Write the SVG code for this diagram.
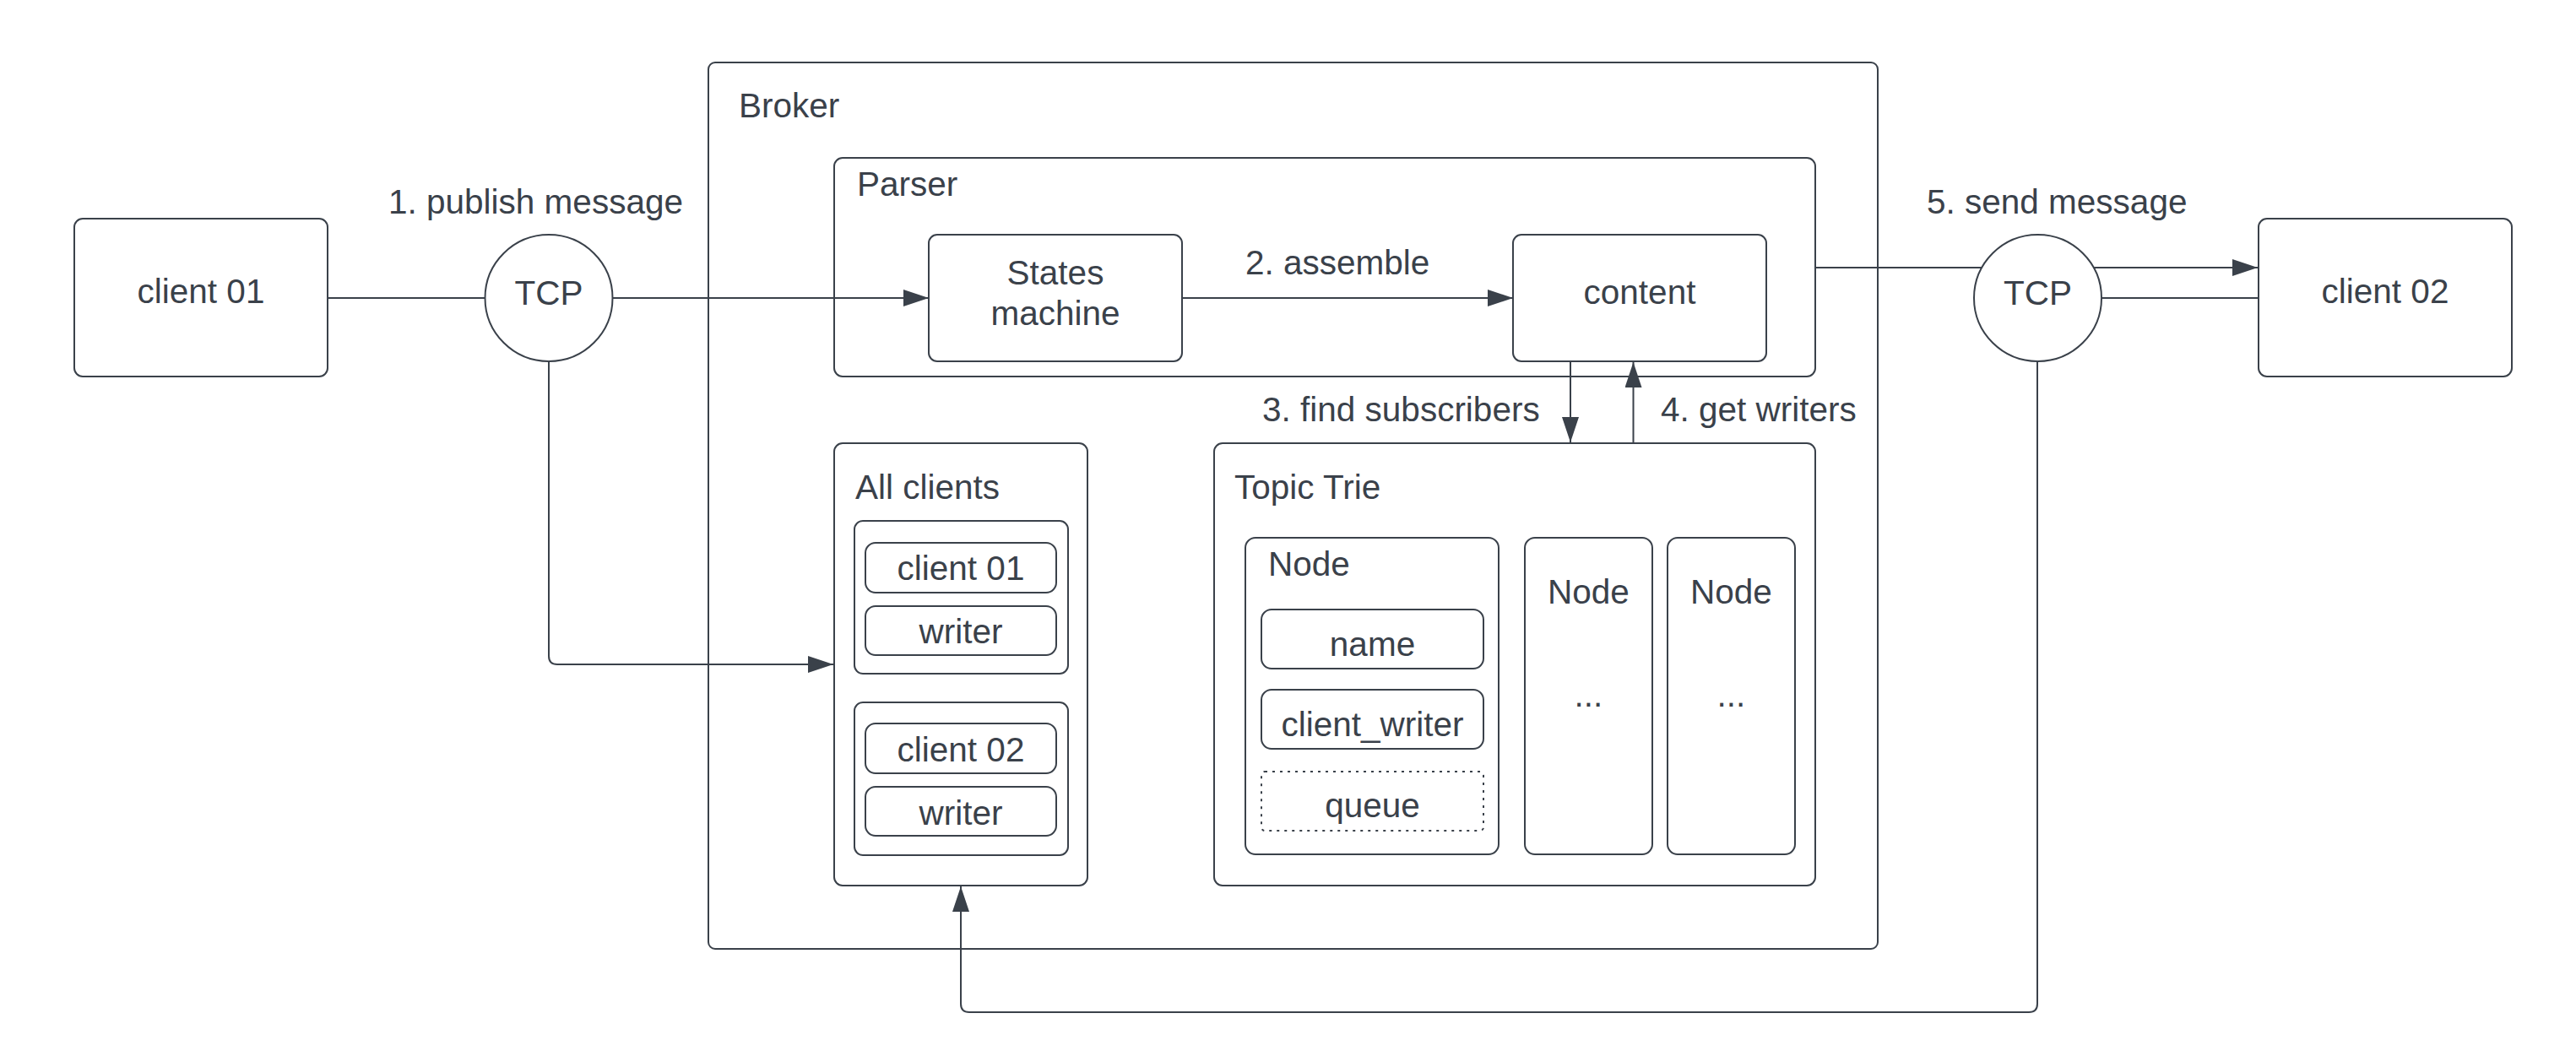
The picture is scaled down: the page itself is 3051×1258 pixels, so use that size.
<svg xmlns="http://www.w3.org/2000/svg" width="3051" height="1258" viewBox="0 0 3051 1258">
<style>
.b{fill:#fff;stroke:#3a414a;stroke-width:2}
.nf{fill:none;stroke:#3a414a;stroke-width:2}
.d{fill:#fff;stroke:#3a414a;stroke-width:2;stroke-dasharray:3 6}
text{font-family:"Liberation Sans",Arial,sans-serif;font-size:40.5px;fill:#3a414a}
.c{text-anchor:middle}
.ln{fill:none;stroke:#3a414a;stroke-width:2}
</style>
<defs>
<marker id="ah" markerUnits="userSpaceOnUse" viewBox="0 0 30 20" refX="30" refY="10" markerWidth="30" markerHeight="20" orient="auto">
<path d="M0,0 L30,10 L0,20 Z" fill="#3a414a"/>
</marker>
</defs>
<rect width="3051" height="1258" fill="#fff"/>
<g id="broker">
<rect class="b" x="839" y="74" width="1385" height="1050" rx="8"/>
<text x="875" y="139">Broker</text>
</g>
<g id="parser">
<rect class="b" x="988" y="187" width="1162" height="259" rx="10"/>
<text x="1015" y="232">Parser</text>
</g>
<g id="client01">
<rect class="b" x="88" y="259" width="300" height="187" rx="10"/>
<text class="c" x="238" y="359">client 01</text>
</g>
<g id="tcp1">
<ellipse class="b" cx="650" cy="353" rx="75.5" ry="75"/>
<text class="c" x="650" y="361">TCP</text>
</g>
<g id="states">
<rect class="b" x="1100" y="278" width="300" height="150" rx="10"/>
<text class="c" x="1250" y="337">States</text>
<text class="c" x="1250" y="385">machine</text>
</g>
<g id="content">
<rect class="b" x="1792" y="278" width="300" height="150" rx="10"/>
<text class="c" x="1942" y="360">content</text>
</g>
<g id="tcp2">
<ellipse class="b" cx="2413.5" cy="353" rx="75.5" ry="75"/>
<text class="c" x="2413.5" y="361">TCP</text>
</g>
<g id="client02">
<rect class="b" x="2675" y="259" width="300" height="187" rx="10"/>
<text class="c" x="2825" y="359">client 02</text>
</g>
<g id="allclients">
<rect class="b" x="988" y="525" width="300" height="524" rx="10"/>
<text x="1013" y="591">All clients</text>
<g id="entry1">
<rect class="b" x="1012" y="617" width="253" height="181" rx="10"/>
<rect class="b" x="1025" y="643" width="226" height="59" rx="12"/>
<text class="c" x="1138" y="687">client 01</text>
<rect class="b" x="1025" y="718" width="226" height="58" rx="12"/>
<text class="c" x="1138" y="762">writer</text>
</g>
<g id="entry2">
<rect class="b" x="1012" y="832" width="253" height="181" rx="10"/>
<rect class="b" x="1025" y="857" width="226" height="59" rx="12"/>
<text class="c" x="1138" y="902">client 02</text>
<rect class="b" x="1025" y="932" width="226" height="58" rx="12"/>
<text class="c" x="1138" y="977">writer</text>
</g>
</g>
<g id="topictrie">
<rect class="b" x="1438" y="525" width="712" height="524" rx="10"/>
<text x="1462" y="591">Topic Trie</text>
<g id="node1">
<rect class="b" x="1475" y="637" width="300" height="375" rx="12"/>
<text x="1502" y="682">Node</text>
<rect class="b" x="1494" y="722" width="263" height="70" rx="12"/>
<text class="c" x="1625.5" y="777">name</text>
<rect class="b" x="1494" y="817" width="263" height="70" rx="12"/>
<text class="c" x="1625.5" y="872">client_writer</text>
<rect class="d" x="1494" y="914" width="263" height="70" rx="4"/>
<text class="c" x="1625.5" y="968">queue</text>
</g>
<g id="node2">
<rect class="b" x="1806" y="637" width="151" height="375" rx="12"/>
<text class="c" x="1881.5" y="715">Node</text>
<text class="c" x="1881.5" y="837">...</text>
</g>
<g id="node3">
<rect class="b" x="1975" y="637" width="151" height="375" rx="12"/>
<text class="c" x="2050.5" y="715">Node</text>
<text class="c" x="2050.5" y="837">...</text>
</g>
</g>
<g id="connectors">
<path class="ln" d="M388,353 H575"/>
<path class="ln" d="M725,353 H1100" marker-end="url(#ah)"/>
<path class="ln" d="M1400,353 H1792" marker-end="url(#ah)"/>
<path class="ln" d="M2150,317 H2348"/>
<path class="ln" d="M2479,317 H2674" marker-end="url(#ah)"/>
<path class="ln" d="M2489,353 H2675"/>
<path class="ln" d="M1860,428 V524" marker-end="url(#ah)"/>
<path class="ln" d="M1934.5,525 V429" marker-end="url(#ah)"/>
<path class="ln" d="M650,428 V777 Q650,787 660,787 H987" marker-end="url(#ah)"/>
<path class="ln" d="M2413,428 V1189 Q2413,1199 2403,1199 H1148 Q1138,1199 1138,1189 V1050" marker-end="url(#ah)"/>
<text x="460" y="253">1. publish message</text>
<text x="1475" y="325">2. assemble</text>
<text x="1495" y="499">3. find subscribers</text>
<text x="1967" y="499">4. get writers</text>
<text x="2282" y="253">5. send message</text>
</g>
</svg>
